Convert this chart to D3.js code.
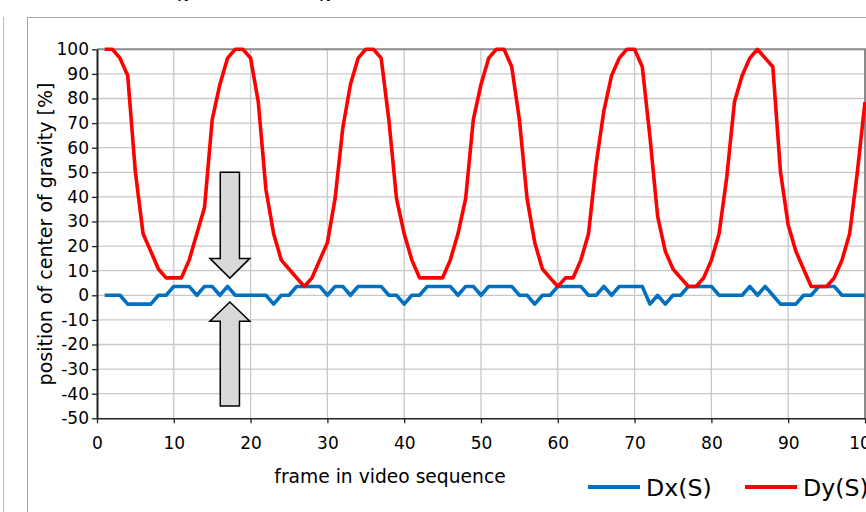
<!DOCTYPE html>
<html>
<head>
<meta charset="utf-8">
<script src="https://cdn.jsdelivr.net/npm/d3@7"></script>
<style>
  body { margin: 0; background: #fff; }
  svg { display: block; font-family: 'DejaVu Sans', sans-serif; }
</style>
</head>
<body>
<div id="chart"></div>
<script>
// frame numbers of the video sequence
const frames = d3.range(1, 101)

// horizontal displacement of the centre of gravity [%]
const dx = [
  0, 0, 0, -3.6, -3.6, -3.6, -3.6, 0, 0, 3.6,
  3.6, 3.6, 0, 3.6, 3.6, 0, 3.6, 0, 0, 0,
  0, 0, -3.6, 0, 0, 3.6, 3.6, 3.6, 3.6, 0,
  3.6, 3.6, 0, 3.6, 3.6, 3.6, 3.6, 0, 0, -3.6,
  0, 0, 3.6, 3.6, 3.6, 3.6, 0, 3.6, 3.6, 0,
  3.6, 3.6, 3.6, 3.6, 0, 0, -3.6, 0, 0, 3.6,
  3.6, 3.6, 3.6, 0, 0, 3.6, 0, 3.6, 3.6, 3.6,
  3.6, -3.6, 0, -3.6, 0, 0, 3.6, 3.6, 3.6, 3.6,
  0, 0, 0, 0, 3.6, 0, 3.6, 0, -3.6, -3.6,
  -3.6, 0, 0, 3.6, 3.6, 3.6, 0, 0, 0, 0
]

// vertical displacement of the centre of gravity [%]
const dy = [
  100, 100, 96.4, 89.3, 50, 25, 17.9, 10.7, 7.1, 7.1,
  7.1, 14.3, 25, 35.7, 71.4, 85.7, 96.4, 100, 100, 96.4,
  78.6, 42.9, 25, 14.3, 10.7, 7.1, 3.6, 7.1, 14.3, 21.4,
  39.3, 67.9, 85.7, 96.4, 100, 100, 96.4, 71.4, 39.3, 25,
  14.3, 7.1, 7.1, 7.1, 7.1, 14.3, 25, 39.3, 71.4, 85.7,
  96.4, 100, 100, 92.9, 71.4, 39.3, 21.4, 10.7, 7.1, 3.6,
  7.1, 7.1, 14.3, 25, 53.6, 75, 89.3, 96.4, 100, 100,
  92.9, 64.3, 32.1, 17.9, 10.7, 7.1, 3.6, 3.6, 7.1, 14.3,
  25, 48, 78.6, 89.3, 96.4, 100, 96.4, 92.9, 50, 28.6,
  17.9, 10.7, 3.6, 3.6, 3.6, 7.1, 14.3, 25, 50, 78.6
]

const xTicks = [0, 10, 20, 30, 40, 50, 60, 70, 80, 90, 100]
const yTicks = [-50, -40, -30, -20, -10, 0, 10, 20, 30, 40, 50, 60, 70, 80, 90, 100]

const seriesNames = ['Dx(S)', 'Dy(S)']
const seriesColors = ['#0070c0', '#ff0000']

const width = 866, height = 512
const plot = { left: 97, top: 49.3, right: 865, bottom: 418.3 }

const svg = d3.select('#chart').append('svg')
    .attr('width', width)
    .attr('height', height)

// outer frame of the chart object (and the edge of the neighbouring one)
svg.append('rect')
    .attr('x', 27.5).attr('y', 17.5)
    .attr('width', 900).attr('height', 600)
    .attr('fill', 'none').attr('stroke', '#a6a6a6')
svg.append('line')
    .attr('x1', 3.5).attr('x2', 3.5).attr('y1', 17).attr('y2', height)
    .attr('stroke', '#bdbdbd')

// title remnants cut off at the top of the picture
svg.selectAll('text.cut')
  .data([183, 325])
  .enter().append('text')
    .attr('class', 'cut')
    .attr('x', d => d).attr('y', -3)
    .attr('text-anchor', 'middle')
    .attr('font-size', 18)
    .text('χ')

const x = d3.scaleLinear().domain([0, 100]).range([plot.left, plot.right])
const y = d3.scaleLinear().domain([-50, 100]).range([plot.bottom, plot.top])

// grid
const grid = svg.append('g').attr('stroke', '#c8c8c8').attr('stroke-width', 1.3)
grid.selectAll('line.h')
  .data(yTicks.filter(t => t > -50 && t < 100))
  .enter().append('line')
    .attr('x1', plot.left).attr('x2', plot.right)
    .attr('y1', d => y(d)).attr('y2', d => y(d))
grid.selectAll('line.v')
  .data(xTicks.filter(t => t > 0 && t < 100))
  .enter().append('line')
    .attr('y1', plot.top).attr('y2', plot.bottom)
    .attr('x1', d => x(d)).attr('x2', d => x(d))

// top / right plot border
svg.append('path')
    .attr('d', `M${plot.left},${plot.top}H${plot.right}V${plot.bottom}`)
    .attr('fill', 'none').attr('stroke', '#8a8a8a').attr('stroke-width', 2)

// arrows (annotation, in data units)
const arrows = [
  { cx: 17.3, from: 50, head: 15, tip: 7 },
  { cx: 17.3, from: -45, head: -10.5, tip: -2.7 }
]
svg.selectAll('path.arrow')
  .data(arrows)
  .enter().append('path')
    .attr('class', 'arrow')
    .attr('d', a => {
      const s = 1.25, h = 2.6
      return d3.line()([
        [x(a.cx - s), y(a.from)], [x(a.cx - s), y(a.head)], [x(a.cx - h), y(a.head)],
        [x(a.cx), y(a.tip)], [x(a.cx + h), y(a.head)], [x(a.cx + s), y(a.head)],
        [x(a.cx + s), y(a.from)]
      ]) + 'Z'
    })
    .attr('fill', '#d9d9d9').attr('stroke', '#000').attr('stroke-width', 1.5)

// series
const line = d3.line().x((d, i) => x(frames[i])).y(d => y(d))
svg.selectAll('path.series')
  .data([dx, dy])
  .enter().append('path')
    .attr('class', 'series')
    .attr('d', line)
    .attr('fill', 'none')
    .attr('stroke', (d, i) => seriesColors[i])
    .attr('stroke-width', 3.6)
    .attr('stroke-linejoin', 'round')

// axes (plain hyphen for negatives, like the original)
const fmt = d => String(d)
const yAxis = svg.append('g')
    .attr('transform', `translate(${plot.left},0)`)
    .call(d3.axisLeft(y).tickValues(yTicks).tickFormat(fmt).tickSize(5).tickPadding(3).tickSizeOuter(0))
const xAxis = svg.append('g')
    .attr('transform', `translate(0,${plot.bottom})`)
    .call(d3.axisBottom(x).tickValues(xTicks).tickFormat(fmt).tickSize(5).tickPadding(14).tickSizeOuter(0))

yAxis.select('.domain').attr('stroke', '#222').attr('stroke-width', 2)
xAxis.select('.domain').attr('stroke', '#222').attr('stroke-width', 1.6)
svg.selectAll('.tick line').attr('stroke', '#222').attr('stroke-width', 1.3)
svg.selectAll('.tick text')
    .attr('font-family', 'DejaVu Sans')
    .attr('font-size', 17)
    .attr('fill', '#000')

// axis titles
svg.append('text')
    .attr('x', 390).attr('y', 483)
    .attr('text-anchor', 'middle')
    .attr('font-size', 18.7)
    .text('frame in video sequence')

svg.append('text')
    .attr('transform', 'translate(52,234) rotate(-90)')
    .attr('text-anchor', 'middle')
    .attr('font-size', 19)
    .text('position of center of gravity [%]')

// legend
const legendX = [588, 745]
const legend = svg.selectAll('g.legend')
  .data(seriesNames)
  .enter().append('g')
    .attr('class', 'legend')
    .attr('transform', (d, i) => `translate(${legendX[i]},487)`)
legend.append('line')
    .attr('x1', 0).attr('x2', 52)
    .attr('stroke', (d, i) => seriesColors[i])
    .attr('stroke-width', 4)
legend.append('text')
    .attr('x', 58).attr('y', 8.5)
    .attr('font-size', 23.7)
    .text(d => d)
</script>
</body>
</html>
